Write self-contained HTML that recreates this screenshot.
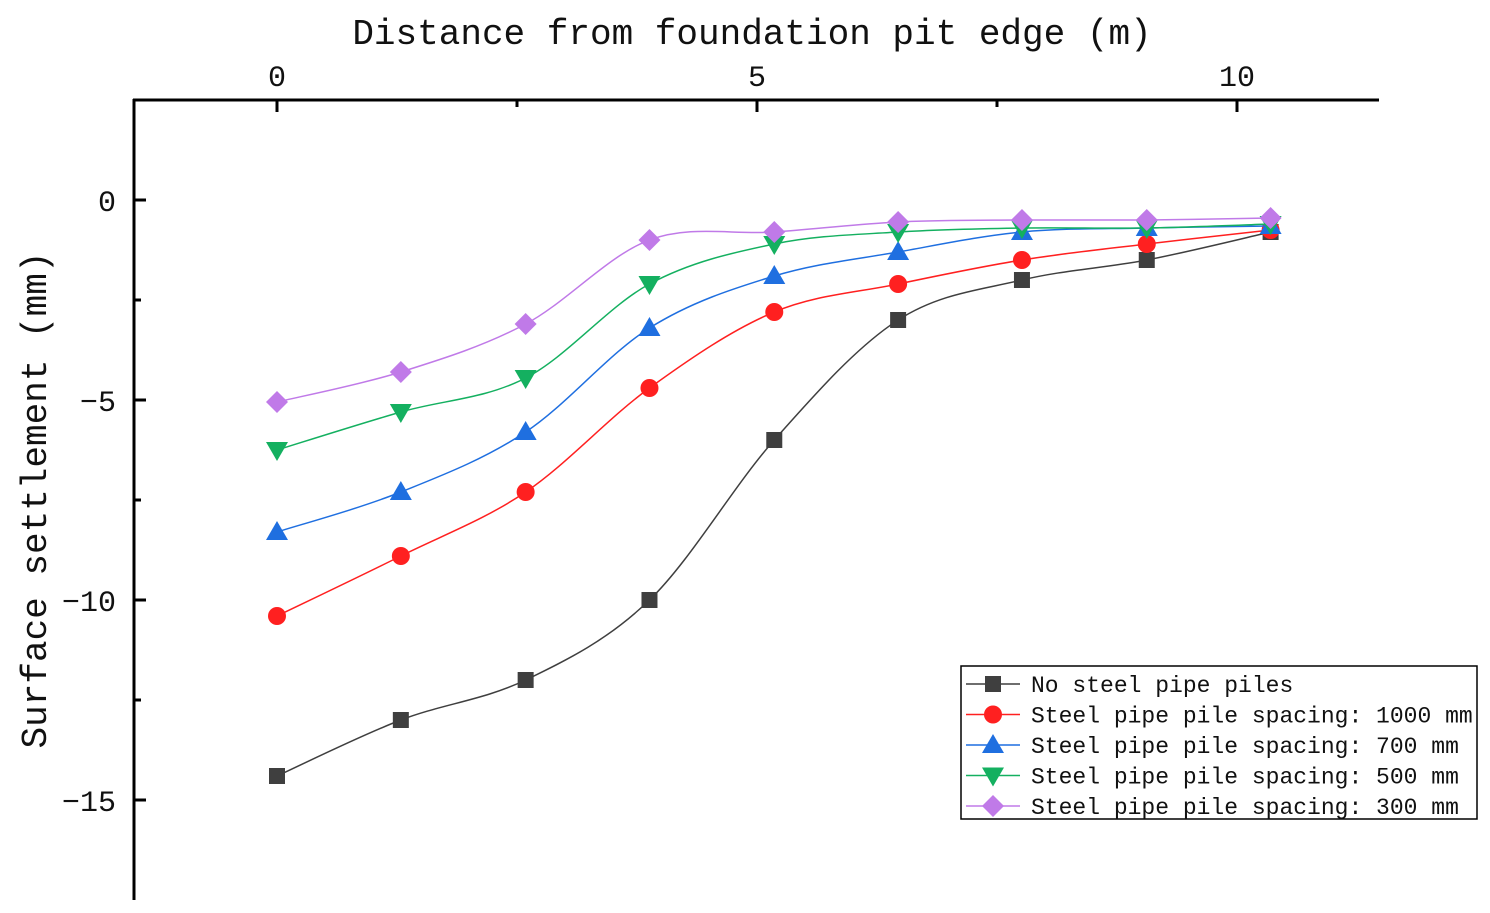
<!DOCTYPE html>
<html><head><meta charset="utf-8">
<style>
html,body{margin:0;padding:0;background:#fff;}
svg{display:block;font-family:"Liberation Mono","Noto Sans CJK SC",monospace;}
</style></head>
<body>
<svg id="chart" width="1490" height="913" viewBox="0 0 1490 913">
<text x="752" y="44" font-size="36" text-anchor="middle" fill="#111">Distance from foundation pit edge (m)</text>
<text transform="translate(46,500) rotate(-90)" font-size="36" text-anchor="middle" fill="#111">Surface settlement (mm)</text>
<g id="axes"></g>
<g id="series"></g>
<g id="legend"></g>
</svg>
<script>
const xValues=[0,1.29,2.59,3.88,5.18,6.47,7.76,9.06,10.35];
const seriesNames=["No steel pipe piles","Steel pipe pile spacing: 1000 mm","Steel pipe pile spacing: 700 mm","Steel pipe pile spacing: 500 mm","Steel pipe pile spacing: 300 mm"];
const sNone=[-14.4,-13,-12,-10,-6,-3,-2,-1.5,-0.8];
const s1000=[-10.4,-8.9,-7.3,-4.7,-2.8,-2.1,-1.5,-1.1,-0.75];
const s700=[-8.3,-7.3,-5.8,-3.2,-1.9,-1.3,-0.8,-0.7,-0.65];
const s500=[-6.25,-5.3,-4.45,-2.1,-1.1,-0.8,-0.7,-0.7,-0.6];
const s300=[-5.05,-4.3,-3.1,-1.0,-0.8,-0.55,-0.5,-0.5,-0.45];
const xTicks=[0,5,10];
const xMinor=[2.5,7.5];
const yTicks=[0,-5,-10,-15];

const NS="http://www.w3.org/2000/svg";
const X=v=>277+v*96;
const Y=v=>200-v*40;
function mk(tag,attrs,parent){const e=document.createElementNS(NS,tag);for(const k in attrs)e.setAttribute(k,attrs[k]);parent.appendChild(e);return e;}
const axes=document.getElementById('axes');
let l=mk('line',{x1:133,y1:100,x2:1379,y2:100,stroke:'#000','stroke-width':3},axes);


l=mk('line',{x1:134,y1:99,x2:134,y2:900,stroke:'#000','stroke-width':3},axes);


xTicks.forEach(t=>{
  const tk=mk('line',{x1:X(t),y1:100,x2:X(t),y2:112,stroke:'#000','stroke-width':3},axes);
  
  
  const tx=mk('text',{x:X(t),y:86,'font-size':30,'text-anchor':'middle',fill:'#111'},axes);tx.textContent=t;
  
  
});
xMinor.forEach(t=>{
  const tk=mk('line',{x1:X(t),y1:100,x2:X(t),y2:107,stroke:'#000','stroke-width':3},axes);
  
  
});
yTicks.forEach(t=>{
  const tk=mk('line',{x1:134,y1:Y(t),x2:146,y2:Y(t),stroke:'#000','stroke-width':3},axes);
  
  
  const tx=mk('text',{x:116,y:Y(t)+11,'font-size':30,'text-anchor':'end',fill:'#111'},axes);tx.textContent=t===0?'0':'\u2212'+(-t);
  
  
});
for(let t=2.5;t>-17.5;t-=2.5){if(t%5!==0){const tk=mk('line',{x1:134,y1:Y(t),x2:141,y2:Y(t),stroke:'#000','stroke-width':3},axes);
  
  }}

const colors=['#3f3f3f','#ff2020','#1f6fe0','#14b060','#c07ae8'];
const markers=['square','circle','tri-up','tri-down','diamond'];
const data=[sNone,s1000,s700,s500,s300];
function marker(type,cx,cy,c,parent){
  let e;
  if(type==='square')e=mk('rect',{x:cx-8,y:cy-8,width:16,height:16,fill:c},parent);
  else if(type==='circle')e=mk('circle',{cx,cy,r:9,fill:c},parent);
  else if(type==='tri-up')e=mk('polygon',{points:`${cx},${cy-11} ${cx+11},${cy+8} ${cx-11},${cy+8}`,fill:c},parent);
  else if(type==='tri-down')e=mk('polygon',{points:`${cx},${cy+11} ${cx+11},${cy-8} ${cx-11},${cy-8}`,fill:c},parent);
  else e=mk('polygon',{points:`${cx},${cy-11} ${cx+11},${cy} ${cx},${cy+11} ${cx-11},${cy}`,fill:c},parent);
  return e;
}
function smooth(pts){
  let d=`M${pts[0][0]},${pts[0][1]}`;
  for(let i=0;i<pts.length-1;i++){
    const p0=pts[i-1]||pts[i],p1=pts[i],p2=pts[i+1],p3=pts[i+2]||pts[i+1];
    const c1=[p1[0]+(p2[0]-p0[0])/6,p1[1]+(p2[1]-p0[1])/6];
    const c2=[p2[0]-(p3[0]-p1[0])/6,p2[1]-(p3[1]-p1[1])/6];
    d+=` C${c1[0]},${c1[1]} ${c2[0]},${c2[1]} ${p2[0]},${p2[1]}`;
  }
  return d;
}
const sg=document.getElementById('series');
data.forEach((s,i)=>{
  const g=mk('g',{},sg);
  
  
  const pts=s.map((v,j)=>[X(xValues[j]),Y(v)]);
  const p=mk('path',{d:smooth(pts),fill:'none',stroke:colors[i],'stroke-width':1.5},g);
  
  
  pts.forEach(pt=>{const m=marker(markers[i],pt[0],pt[1],colors[i],g);
    
    });
});
const lg=document.getElementById('legend');
mk('rect',{x:961,y:666,width:516,height:153,fill:'#fff',stroke:'#000','stroke-width':1.5},lg);
seriesNames.forEach((n,i)=>{
  const y=684+i*30.5;
  mk('line',{x1:966,y1:y,x2:1020,y2:y,stroke:colors[i],'stroke-width':1.5},lg);
  marker(markers[i],993,y,colors[i],lg);
  const t=mk('text',{x:1031,y:y+8,'font-size':23,fill:'#111'},lg);t.textContent=n;
  
  
});
</script>
</body></html>
